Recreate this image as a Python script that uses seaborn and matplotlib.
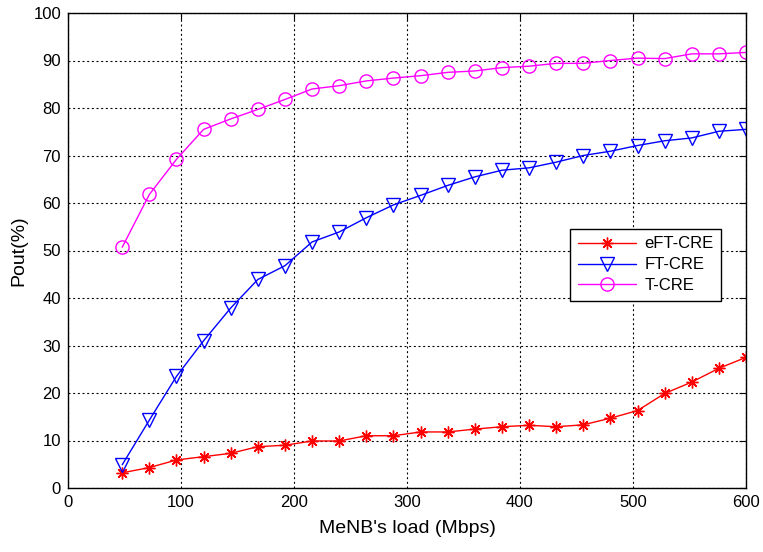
import numpy as np
import pandas as pd
import matplotlib
matplotlib.use("Agg")
import matplotlib.pyplot as plt
import seaborn as sns

# MeNB load (Mbps)
load = [48, 72, 96, 120, 144, 168, 192, 216, 240, 264, 288, 312,
        336, 360, 384, 408, 432, 456, 480, 504, 528, 552, 576, 600]

# Outage probability (%) per scheme
eft_cre = [3.2, 4.3, 5.9, 6.6, 7.3, 8.7, 9.0, 9.9, 9.9, 11.0, 11.0, 11.8,
           11.8, 12.4, 12.9, 13.2, 12.9, 13.3, 14.7, 16.3, 19.9, 22.3, 25.2, 27.5]
ft_cre = [4.9, 14.3, 23.5, 31.0, 37.9, 43.9, 46.8, 51.8, 53.9, 56.9, 59.6, 61.6,
          63.7, 65.5, 66.9, 67.4, 68.6, 70.0, 70.9, 72.1, 73.1, 73.7, 75.1, 75.5]
t_cre = [50.7, 61.8, 69.2, 75.5, 77.7, 79.7, 81.8, 84.0, 84.7, 85.7, 86.3, 86.8,
         87.5, 87.8, 88.5, 88.8, 89.4, 89.4, 90.0, 90.5, 90.4, 91.4, 91.4, 91.7]

series_names = ["eFT-CRE", "FT-CRE", "T-CRE"]
series_colors = ["#ff0000", "#0000ff", "#ff00ff"]
series_values = [eft_cre, ft_cre, t_cre]

sns.set_style("white")
plt.rcParams["font.family"] = ["Liberation Sans", "DejaVu Sans"]
plt.rcParams["text.color"] = "black"
plt.rcParams["axes.labelcolor"] = "black"

fig = plt.figure(figsize=(7.63, 5.52), dpi=100)
ax = fig.add_axes([68 / 763, 64 / 552, 678 / 763, 475 / 552])

# marker styles: 8-armed asterisk, open down-triangle, open circle
marker_kw = [
    dict(marker=(8, 2, 0), markersize=8.5, markerfacecolor="#ff0000",
         markeredgecolor="#ff0000", markeredgewidth=1.0),
    dict(marker="v", markersize=9.5, markerfacecolor="none",
         markeredgecolor="#0000ff", markeredgewidth=1.0),
    dict(marker="o", markersize=9.5, markerfacecolor="none",
         markeredgecolor="#ff00ff", markeredgewidth=1.0),
]

for name, color, values, mk in zip(series_names, series_colors,
                                   series_values, marker_kw):
    df = pd.DataFrame({"load": load, "pout": values})
    sns.lineplot(data=df, x="load", y="pout", ax=ax, color=color,
                 linewidth=1.0, label=name, **mk)

ax.set_xlim(0, 600)
ax.set_ylim(0, 100)
ax.set_xticks(np.arange(0, 601, 100))
ax.set_yticks(np.arange(0, 101, 10))
ax.grid(True, color="black", linestyle=(0, (1.8, 2.4)), linewidth=0.8)
ax.set_axisbelow(True)

for spine in ax.spines.values():
    spine.set_visible(True)
    spine.set_color("black")
    spine.set_linewidth(1.0)

ax.tick_params(axis="both", which="both", direction="in", top=True, right=True,
               length=5, width=0.8, labelsize=12, pad=5, colors="black",
               labelcolor="black")

ax.set_xlabel("MeNB's load (Mbps)", fontsize=14, labelpad=7, color="black")
ax.set_ylabel("Pout(%)", fontsize=14, labelpad=4, color="black")

leg = ax.legend(loc="upper left", bbox_to_anchor=((570 - 68) / 678, (488 - 229) / 475),
                fontsize=12, frameon=True, fancybox=False, framealpha=1,
                edgecolor="black", handlelength=3.5, borderpad=0.45,
                labelspacing=0.35, handletextpad=0.5, borderaxespad=0)
leg.get_frame().set_linewidth(1.0)
for txt in leg.get_texts():
    txt.set_color("black")

fig.savefig("out.png", dpi=100, facecolor="white")
